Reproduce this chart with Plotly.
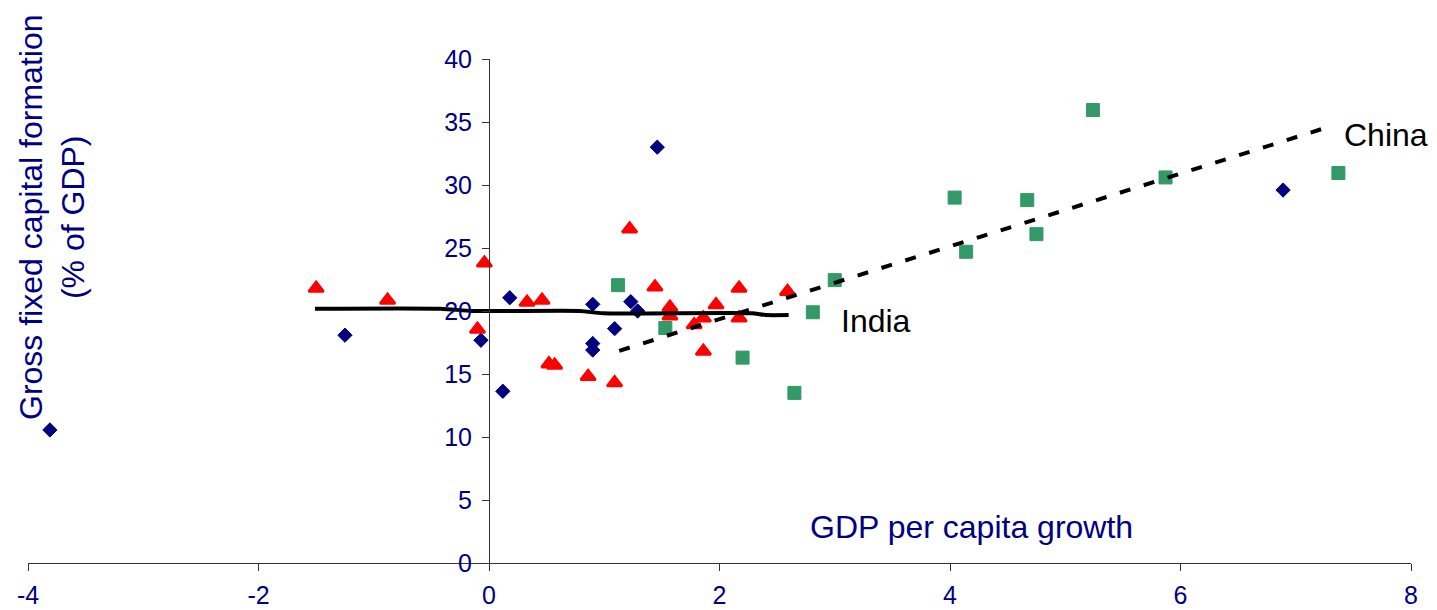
import plotly.graph_objects as go

# ---- data ----
india_x = [-1.50, -0.88, -0.04, -0.10, 0.33, 0.46, 0.52, 0.57, 0.86, 1.09, 1.22,
           1.44, 1.57, 1.57, 1.78, 1.86, 1.86, 1.97, 2.17, 2.17, 2.59]
india_y = [21.8, 20.85, 23.8, 18.55, 20.7, 20.85, 15.8, 15.7, 14.8, 14.3, 26.5,
           21.9, 20.3, 19.6, 18.9, 19.45, 16.8, 20.5, 21.8, 19.45, 21.55]

other_x = [-3.81, -1.25, -0.07, 0.12, 0.18, 0.90, 0.90, 0.90, 1.09, 1.23, 1.29, 1.46, 6.89]
other_y = [10.56, 18.08, 17.68, 13.63, 21.05, 20.53, 17.42, 16.9, 18.6, 20.74, 20.0, 33.0, 29.6]

china_x = [1.12, 1.53, 2.20, 2.65, 2.81, 3.00, 4.04, 4.14, 4.67, 4.75, 5.24, 5.87, 7.37]
china_y = [22.05, 18.65, 16.3, 13.5, 19.9, 22.45, 29.0, 24.7, 28.8, 26.1, 35.95, 30.6, 30.95]

india_trend_x = [-1.51, -0.42, -0.14, 0.79, 0.99, 2.28, 2.40, 2.60]
india_trend_y = [20.18, 20.18, 20.0, 20.0, 19.82, 19.82, 19.68, 19.68]

china_trend_x = [1.13, 7.28]
china_trend_y = [16.84, 34.6]

x_ticks = [-4, -2, 0, 2, 4, 6, 8]
x_tick_labels = ["-4", "-2", "0", "2", "4", "6", "8"]
y_ticks = [0, 5, 10, 15, 20, 25, 30, 35, 40]

NAVY = "#000080"
FONT = "Arial, Liberation Sans, sans-serif"

fig = go.Figure()

fig.add_trace(go.Scatter(x=other_x, y=other_y, mode="markers",
                         marker=dict(symbol="diamond", size=11, color=NAVY,
                                     line=dict(width=1, color=NAVY)),
                         cliponaxis=False, showlegend=False))
fig.add_trace(go.Scatter(x=india_x, y=india_y, mode="markers",
                         marker=dict(symbol="triangle-up", size=13, color="#FF0000",
                                     line=dict(width=2.5, color="#FF0000")),
                         cliponaxis=False, showlegend=False))
fig.add_trace(go.Scatter(x=china_x, y=china_y, mode="markers",
                         marker=dict(symbol="square", size=13, color="#339966",
                                     line=dict(width=1, color="#339966")),
                         cliponaxis=False, showlegend=False))
fig.add_trace(go.Scatter(x=india_trend_x, y=india_trend_y, mode="lines",
                         line=dict(color="black", width=4, shape="spline", smoothing=0.6),
                         showlegend=False))
fig.add_trace(go.Scatter(x=china_trend_x, y=china_trend_y, mode="lines",
                         line=dict(color="black", width=4, dash="11px,14px"),
                         showlegend=False))

# the page body has an 8px default margin, so the figure is 8px smaller
fig.update_layout(
    width=1429, height=602,
    margin=dict(l=20, r=26, t=51, b=47),
    paper_bgcolor="white", plot_bgcolor="white",
    font=dict(family=FONT, color=NAVY),
    xaxis=dict(range=[-4, 8], tickvals=x_ticks, ticktext=x_tick_labels,
               ticks="outside", ticklen=7, automargin=False,
               tickcolor="#333333", showline=True, linecolor="#333333", linewidth=1,
               showgrid=False, zeroline=False,
               tickfont=dict(size=25, color=NAVY, family=FONT),
               ticklabelstandoff=3),
    yaxis=dict(range=[0, 40], tickvals=y_ticks, ticks="outside", ticklen=7,
               automargin=False,
               tickcolor="#333333", showline=True, linecolor="#333333", linewidth=1,
               showgrid=False, zeroline=False, anchor="free", position=1/3,
               tickfont=dict(size=25, color=NAVY, family=FONT),
               ticklabelstandoff=5),
    annotations=[
        dict(text="Gross fixed capital formation<br>(% of GDP)", textangle=-90,
             xref="paper", yref="paper", x=(52 - 28) / 1383, y=(563 - 217) / 504,
             xanchor="center", yanchor="middle", showarrow=False,
             font=dict(size=32, color=NAVY, family=FONT)),
        dict(text="GDP per capita growth", xref="x", yref="y",
             x=2.77, y=2.85, xanchor="left", yanchor="middle", showarrow=False,
             font=dict(size=32, color=NAVY, family=FONT)),
        dict(text="India", xref="x", yref="y", x=3.04, y=19.2,
             xanchor="left", yanchor="middle", showarrow=False,
             font=dict(size=32, color="black", family=FONT)),
        dict(text="China", xref="x", yref="y", x=7.40, y=34.0,
             xanchor="left", yanchor="middle", showarrow=False,
             font=dict(size=32, color="black", family=FONT)),
    ],
)

fig.write_html("out.html")
